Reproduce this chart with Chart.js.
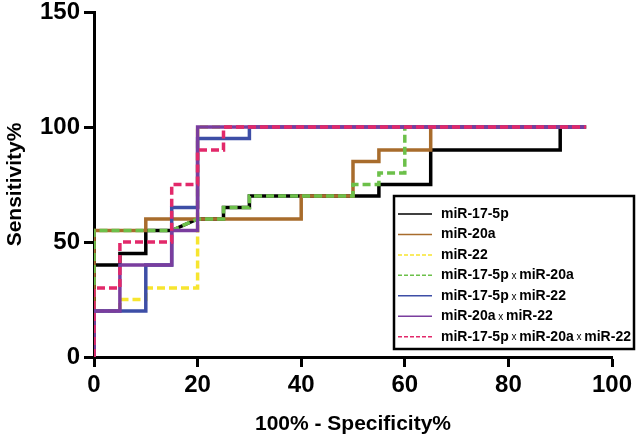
<!DOCTYPE html>
<html>
<head>
<meta charset="utf-8">
<script src="https://cdn.jsdelivr.net/npm/chart.js@4"></script>
<style>
  html, body { margin: 0; padding: 0; background: #fff; }
  #wrap { width: 640px; height: 441px; position: relative; }
</style>
</head>
<body>
<div id="wrap"><canvas id="rocChart"></canvas></div>
<script>
// --- Dados ---
const fpr17  = [0, 0, 5, 5, 10, 10, 15, 20, 25, 25, 30, 30, 55, 55, 65, 65, 90, 90, 95];
const sens17 = [0, 40, 40, 45, 45, 55, 55, 60, 60, 65, 65, 70, 70, 75, 75, 90, 90, 100, 100];

const fpr20a  = [0, 0, 10, 10, 40, 40, 50, 50, 55, 55, 65, 65, 95];
const sens20a = [0, 55, 55, 60, 60, 70, 70, 85, 85, 90, 90, 100, 100];

const fpr22  = [0, 0, 5, 5, 10, 10, 20, 20, 95];
const sens22 = [0, 20, 20, 25, 25, 30, 30, 100, 100];

const fpr17x20a  = [0, 0, 15, 20, 25, 25, 30, 30, 50, 50, 55, 55, 60, 60, 95];
const sens17x20a = [0, 55, 55, 60, 60, 65, 65, 70, 70, 75, 75, 80, 80, 100, 100];

const fpr17x22  = [0, 0, 10, 10, 15, 15, 20, 20, 30, 30, 95];
const sens17x22 = [0, 20, 20, 40, 40, 65, 65, 95, 95, 100, 100];

const fpr20ax22  = [0, 0, 5, 5, 15, 15, 20, 20, 95];
const sens20ax22 = [0, 20, 20, 40, 40, 55, 55, 100, 100];

const fprAll  = [0, 0, 5, 5, 15, 15, 20, 20, 25, 25, 95];
const sensAll = [0, 30, 30, 50, 50, 75, 75, 90, 90, 100, 100];

const xTicks = [0, 20, 40, 60, 80, 100];
const yTicks = [0, 50, 100, 150];

const seriesNames = [
    'miR-17-5p', 'miR-20a', 'miR-22', 'miR-17-5p x miR-20a',
    'miR-17-5p x miR-22', 'miR-20a x miR-22', 'miR-17-5p x miR-20a x miR-22'
];
const seriesX = [fpr17, fpr20a, fpr22, fpr17x20a, fpr17x22, fpr20ax22, fprAll];
const seriesY = [sens17, sens20a, sens22, sens17x20a, sens17x22, sens20ax22, sensAll];
const seriesColors = ['#000000', '#a86c2c', '#f7e52f', '#6cc04a', '#3d4ea6', '#7a3d9e', '#e2296a'];
const seriesDash = [[], [], [8, 4], [8, 4], [], [], [8, 4]];

const FONT = "'Liberation Sans', Arial, Helvetica, sans-serif";

// --- Legenda desenhada dentro do gráfico ---
const boxLegend = {
    id: 'boxLegend',
    afterDraw(chart) {
        const c = chart.ctx;
        const bx = 394, by = 196, bw = 240, bh = 153;
        c.save();
        c.fillStyle = '#fff';
        c.fillRect(bx, by, bw, bh);
        c.strokeStyle = '#000';
        c.lineWidth = 2.5;
        c.strokeRect(bx, by, bw, bh);

        seriesNames.forEach((name, i) => {
            const y = 214 + i * 20.45;
            c.beginPath();
            c.setLineDash(seriesDash[i].length ? [4, 2] : []);
            c.strokeStyle = seriesColors[i];
            c.lineWidth = 1.5;
            c.moveTo(398, y);
            c.lineTo(432, y);
            c.stroke();
            c.setLineDash([]);

            // texto: partes em negrito, "x" menor
            let x = 441;
            c.fillStyle = '#000';
            c.textBaseline = 'middle';
            const parts = name.split(' x ');
            parts.forEach((p, j) => {
                c.font = 'bold 14px ' + FONT;
                c.fillText(p, x, y);
                x += c.measureText(p).width;
                if (j < parts.length - 1) {
                    c.font = '10px ' + FONT;
                    const sep = ' x ';
                    c.fillText(sep, x, y + 1);
                    x += c.measureText(sep).width;
                }
            });
        });
        c.restore();
    }
};

// --- Configuração do Gráfico (Chart.js) ---
const ctx = document.getElementById('rocChart').getContext('2d');
const rocChart = new Chart(ctx, {
    type: 'line',
    data: {
        datasets: seriesNames.map((name, i) => ({
            label: name,
            data: seriesX[i].map((x, k) => ({ x: x, y: seriesY[i][k] })),
            borderColor: seriesColors[i],
            borderWidth: 3.5,
            borderDash: seriesDash[i],
            borderCapStyle: 'butt',
            borderJoinStyle: 'miter',
            pointRadius: 0,
            fill: false,
            tension: 0,
            order: seriesNames.length - i // o primeiro fica por baixo
        }))
    },
    options: {
        responsive: true,
        maintainAspectRatio: false,
        animation: false,
        layout: { padding: { left: 0, right: 28, top: 12, bottom: 0 } },
        plugins: { legend: { display: false }, tooltip: { enabled: false } },
        scales: {
            x: {
                type: 'linear',
                min: 0, max: 100,
                afterBuildTicks: (s) => { s.ticks = xTicks.map(v => ({ value: v })); },
                afterFit: (s) => { s.height = 84; },
                border: { display: true, color: '#000', width: 3 },
                grid: { drawOnChartArea: false, drawTicks: true, tickLength: 10, tickWidth: 3, tickColor: '#000' },
                ticks: { color: '#000', padding: 4, maxRotation: 0, font: { family: FONT, size: 24, weight: 'bold' } },
                title: {
                    display: true, text: '100% - Specificity%', color: '#000',
                    padding: { top: 0, bottom: 4 },
                    font: { family: FONT, size: 21, weight: 'bold' }
                }
            },
            y: {
                type: 'linear',
                min: 0, max: 150,
                afterBuildTicks: (s) => { s.ticks = yTicks.map(v => ({ value: v })); },
                afterFit: (s) => { s.width = 94; s.paddingTop = 12; s.paddingBottom = 0; },
                border: { display: true, color: '#000', width: 3 },
                grid: { drawOnChartArea: false, drawTicks: true, tickLength: 10, tickWidth: 3, tickColor: '#000' },
                ticks: { color: '#000', padding: 4, font: { family: FONT, size: 24, weight: 'bold' } },
                title: {
                    display: true, text: 'Sensitivity%', color: '#000',
                    padding: { top: 3, bottom: 0 },
                    font: { family: FONT, size: 21, weight: 'bold' }
                }
            }
        }
    },
    plugins: [boxLegend]
});
</script>
</body>
</html>
